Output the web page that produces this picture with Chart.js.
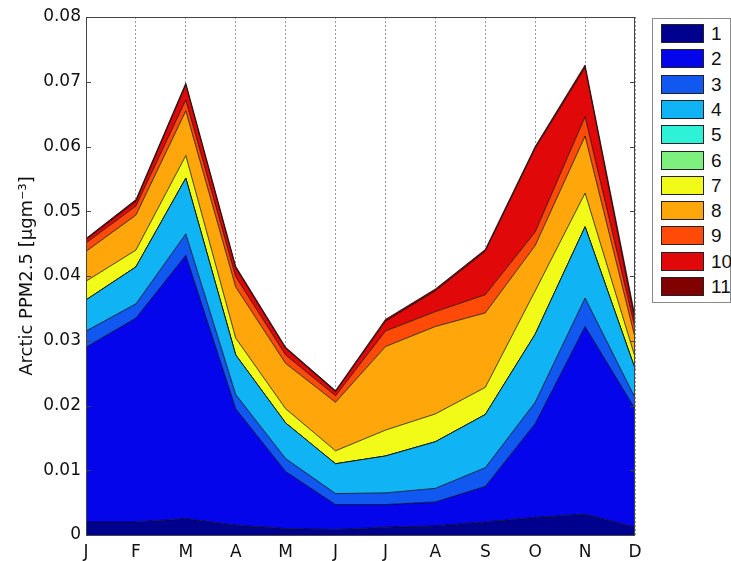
<!DOCTYPE html>
<html>
<head>
<meta charset="utf-8">
<script src="https://cdn.jsdelivr.net/npm/chart.js@4/dist/chart.umd.min.js"></script>
<style>
  html, body { margin: 0; padding: 0; background: #fff; }
  #wrap { position: relative; width: 731px; height: 561px; }
  #legend {
    position: absolute; left: 652px; top: 18px; width: 79px; height: 285px;
    box-sizing: border-box; border: 1px solid #8a8a8a; background: #fff;
    font-family: "Liberation Sans", Arial, sans-serif; font-size: 19px; color: #111;
  }
  .item { position: absolute; left: 8px; height: 19px; width: 70px; }
  .sw { position: absolute; left: 0; top: 0; width: 43px; height: 19px; box-sizing: border-box; border: 1px solid #222; }
  .lab { position: absolute; left: 50px; top: 0; line-height: 19px; }
</style>
</head>
<body>
<div id="wrap">
  <canvas id="c" width="731" height="561"></canvas>
  <div id="legend"></div>
</div>
<script>
// Monthly Arctic PM2.5 contributions (ug m-3), stacked by source region 1..11
const months = ['J', 'F', 'M', 'A', 'M', 'J', 'J', 'A', 'S', 'O', 'N', 'D'];
const seriesNames = ['1', '2', '3', '4', '5', '6', '7', '8', '9', '10', '11'];

const s1  = [0.0020, 0.0020, 0.0025, 0.0015, 0.0010, 0.0008, 0.0012, 0.0014, 0.0020, 0.0027, 0.0032, 0.0012];
const s2  = [0.0270, 0.0315, 0.0407, 0.0180, 0.0088, 0.0039, 0.0035, 0.0037, 0.0055, 0.0145, 0.0290, 0.0183];
const s3  = [0.0025, 0.0022, 0.0033, 0.0022, 0.0020, 0.0017, 0.0018, 0.0021, 0.0029, 0.0033, 0.0044, 0.0017];
const s4  = [0.0048, 0.0057, 0.0086, 0.0061, 0.0055, 0.0046, 0.0057, 0.0072, 0.0082, 0.0105, 0.0110, 0.0045];
const s5  = [0, 0, 0, 0, 0, 0, 0, 0, 0, 0, 0, 0];
const s6  = [0, 0, 0, 0, 0, 0, 0, 0, 0, 0, 0, 0];
const s7  = [0.0029, 0.0026, 0.0035, 0.0026, 0.0022, 0.0020, 0.0040, 0.0043, 0.0042, 0.0067, 0.0052, 0.0018];
const s8  = [0.0046, 0.0054, 0.0069, 0.0079, 0.0070, 0.0075, 0.0129, 0.0135, 0.0115, 0.0070, 0.0088, 0.0030];
const s9  = [0.0013, 0.0014, 0.0017, 0.0016, 0.0013, 0.0010, 0.0024, 0.0023, 0.0028, 0.0021, 0.0030, 0.0015];
const s10 = [0.0005, 0.0007, 0.0023, 0.0013, 0.0010, 0.0006, 0.0015, 0.0032, 0.0067, 0.0129, 0.0076, 0.0010];
const s11 = [0.0002, 0.0003, 0.0003, 0.0003, 0.0002, 0.0002, 0.0003, 0.0003, 0.0003, 0.0003, 0.0004, 0.0008];

const yMin = 0, yMax = 0.08, yStep = 0.01;

const seriesValues = [s1, s2, s3, s4, s5, s6, s7, s8, s9, s10, s11];
const colors = ['#00008f', '#0505ec', '#1058f0', '#10b4f4', '#2ef2d8', '#7ef07e',
                '#f2fa18', '#ffa70a', '#ff4a08', '#e00808', '#800000'];

const datasets = seriesValues.map((vals, i) => ({
  label: seriesNames[i],
  data: vals,
  backgroundColor: colors[i],
  borderColor: 'rgba(0,0,0,0.8)',
  borderWidth: 0.9,
  pointRadius: 0,
  pointHoverRadius: 0,
  tension: 0,
  fill: i === 0 ? 'origin' : '-1'
}));

// box around the plot with inward tick marks on both vertical axes
const frame = {
  id: 'frame',
  afterDatasetsDraw(chart) {
    const { ctx, chartArea: a, scales: { y } } = chart;
    ctx.save();
    ctx.strokeStyle = '#444';
    ctx.lineWidth = 1;
    ctx.beginPath();
    y.ticks.forEach(t => {
      const py = Math.round(y.getPixelForValue(t.value)) + 0.5;
      ctx.moveTo(a.left, py); ctx.lineTo(a.left + 5, py);
      ctx.moveTo(a.right, py); ctx.lineTo(a.right - 5, py);
    });
    ctx.stroke();
    ctx.strokeRect(Math.round(a.left) + 0.5, Math.round(a.top) + 0.5,
                   Math.round(a.right - a.left) - 1, Math.round(a.bottom - a.top));
    ctx.restore();
  }
};

const axisFont = { family: '"DejaVu Sans", sans-serif', size: 17 };

const chart = new Chart(document.getElementById('c'), {
  type: 'line',
  data: { labels: months, datasets },
  options: {
    responsive: false,
    animation: false,
    events: [],
    layout: { padding: { top: 17, right: 96, bottom: 0, left: 0 } },
    plugins: { legend: { display: false }, tooltip: { enabled: false } },
    scales: {
      x: {
        type: 'category',
        offset: false,
        grid: { display: true, color: '#9a9a9a', lineWidth: 1, drawTicks: false, offset: false },
        border: { display: false, dash: [2, 2] },
        ticks: { color: '#111', font: axisFont, padding: 7, maxRotation: 0, autoSkip: false },
        afterFit: s => { s.height = 26; }
      },
      y: {
        stacked: true,
        min: yMin,
        max: yMax,
        grid: { display: false, drawTicks: false },
        border: { display: false },
        ticks: {
          stepSize: yStep,
          color: '#111',
          font: axisFont,
          padding: 5,
          callback: v => (Math.abs(v) < 1e-9 ? '0' : v.toFixed(2))
        },
        title: {
          display: true,
          text: 'Arctic PPM2.5 [\u03bcgm\u207b\u00b3]',
          color: '#111',
          font: { family: '"DejaVu Sans", sans-serif', size: 18 },
          padding: { top: 17, bottom: 0 }
        },
        afterFit: s => { s.width = 86; }
      }
    }
  },
  plugins: [frame]
});

// legend box built from the datasets
const legend = document.getElementById('legend');
chart.data.datasets.forEach((ds, i) => {
  const item = document.createElement('div');
  item.className = 'item';
  item.style.top = (5 + i * 25.3) + 'px';
  const sw = document.createElement('div');
  sw.className = 'sw';
  sw.style.background = ds.backgroundColor;
  const lab = document.createElement('div');
  lab.className = 'lab';
  lab.textContent = ds.label;
  item.appendChild(sw);
  item.appendChild(lab);
  legend.appendChild(item);
});
</script>
</body>
</html>
